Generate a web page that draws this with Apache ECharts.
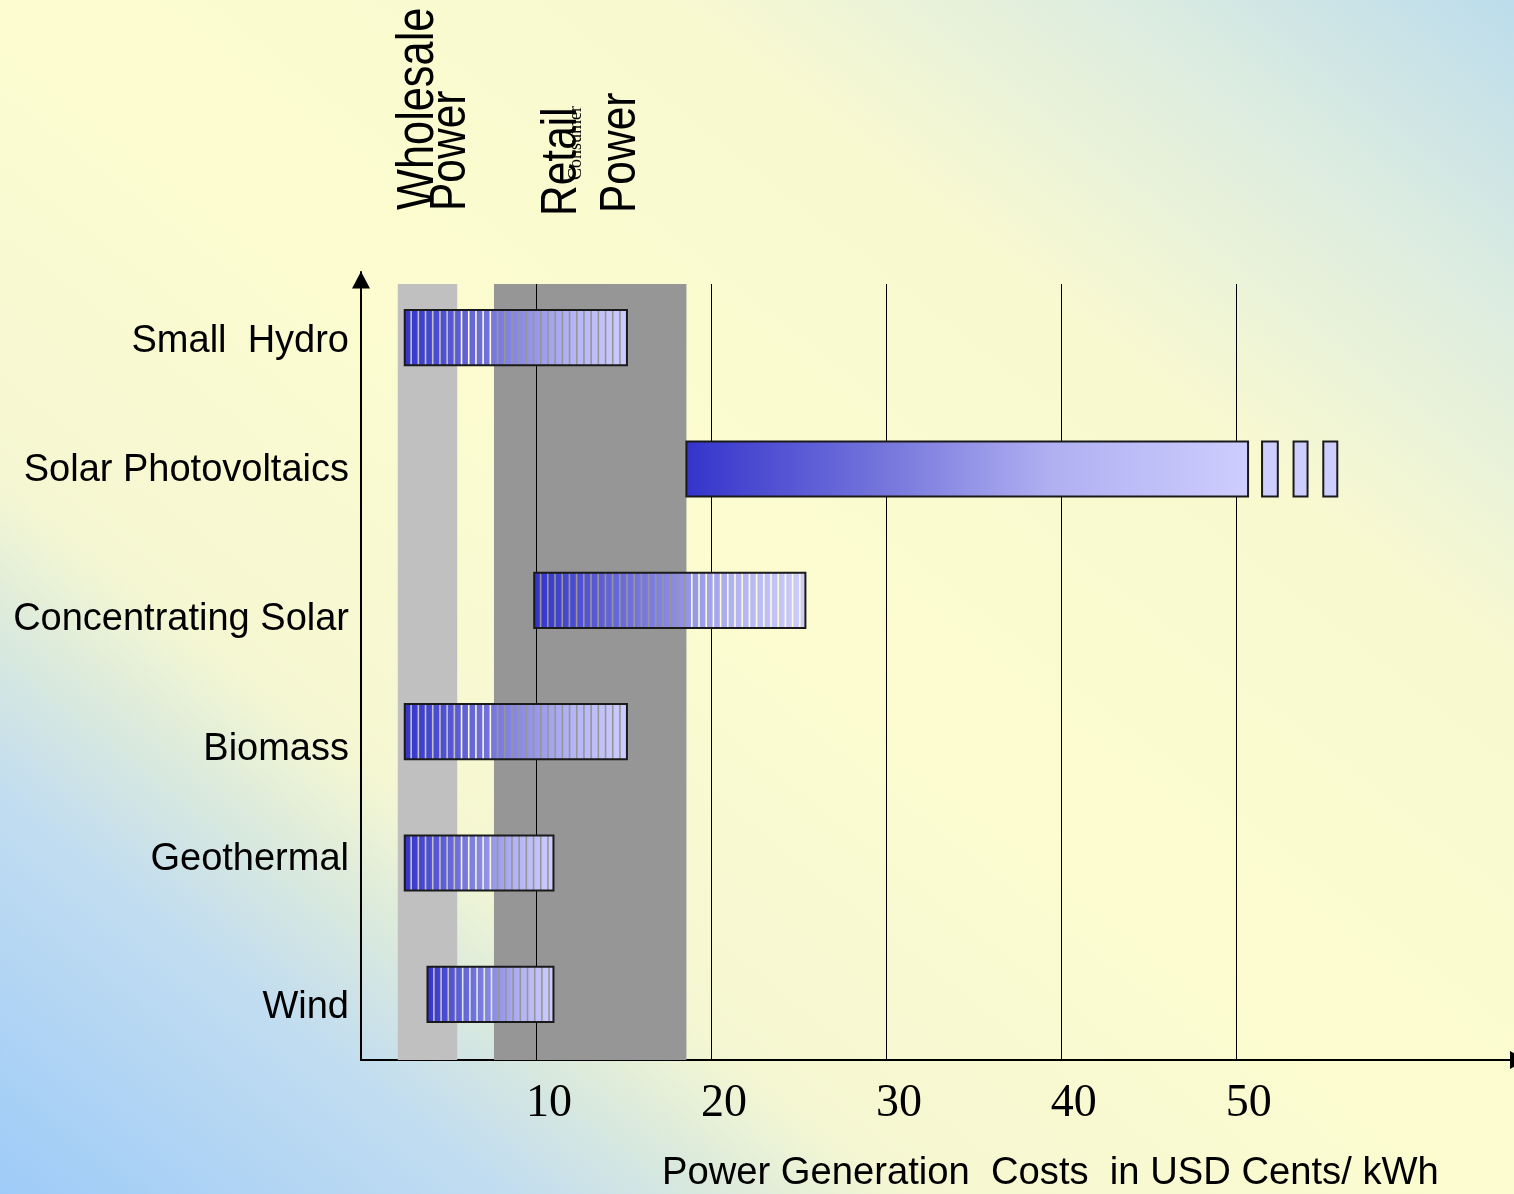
<!DOCTYPE html>
<html><head><meta charset="utf-8">
<script src="https://cdn.jsdelivr.net/npm/echarts@6/dist/echarts.min.js"></script>
<style>
html,body{margin:0;padding:0;width:1514px;height:1194px;overflow:hidden;
background:linear-gradient(to top right,#9ecbf8 0%,#c2ddf0 17%,#dbeadc 24%,#f5f7d2 30%,#fcfcd0 50%,#f9f9d0 72%,#dcece0 87%,#bcdcec 100%);}
#c{width:1514px;height:1194px;}
</style></head><body><div id="c"></div>
<script>
// ---- data ----
const categories = ['Small  Hydro', 'Solar Photovoltaics', 'Concentrating Solar', 'Biomass', 'Geothermal', 'Wind'];
const costLow  = [2.5, 18.6, 9.9, 2.5, 2.5, 3.8];
const costHigh = [15.2, 50.7, 25.4, 15.2, 11.0, 11.0];
const stripedBar = [1, 0, 1, 1, 1, 1];
const pvTailLow  = [51.5, 53.3, 55.0];
const pvTailHigh = [52.4, 54.1, 55.8];
const xTickLabels = [10, 20, 30, 40, 50];
const gridLineValues = [10, 20, 30, 40, 50];
const wholesaleBand = [2.1, 5.5];
const retailBand = [7.6, 18.6];
const xMin = 0, xMax = 65.9;

// ---- styles ----
const labelShift = [4, 2, 19, 18, -3, 13];   // vertical nudge of category labels (px)
const FONT = '"Liberation Sans", Arial, sans-serif';
const SERIF = '"Liberation Serif", "Times New Roman", serif';

const chart = echarts.init(document.getElementById('c'), null, {renderer: 'canvas'});

const barStops = [
  {offset: 0, color: '#3333cc'},
  {offset: 0.45, color: '#7f7fe0'},
  {offset: 0.75, color: '#b4b4f6'},
  {offset: 1, color: '#cdcdfe'}
];
const pvStops = [
  {offset: 0, color: '#3434cc'},
  {offset: 0.35, color: '#7575dc'},
  {offset: 0.65, color: '#b0b0f2'},
  {offset: 1, color: '#cdcdfe'}
];

function renderBands(params, api) {
  const a = api.coord([api.value(0), 0]);
  const b = api.coord([api.value(1), 1]);
  return {type: 'rect', shape: {x: a[0], y: b[1], width: b[0] - a[0], height: a[1] - b[1]},
    style: {fill: api.value(2) === 0 ? '#c0c0c0' : '#969696'}};
}
function renderGridLine(params, api) {
  const a = api.coord([api.value(0), 0]);
  const b = api.coord([api.value(0), 1]);
  return {type: 'line', shape: {x1: Math.round(a[0]) + 0.5, y1: a[1], x2: Math.round(a[0]) + 0.5, y2: b[1]},
    style: {stroke: '#000', lineWidth: 1}};
}
function renderBar(params, api) {
  const p0 = api.coord([api.value(0), api.value(2)]);
  const p1 = api.coord([api.value(1), api.value(2)]);
  const h = api.size([0, 1])[1] * 0.42;
  const x0 = p0[0], x1 = p1[0], y0 = p0[1] - h / 2;
  const striped = api.value(3) === 1;
  const grad = new echarts.graphic.LinearGradient(x0, 0, x1, 0, striped ? barStops : pvStops, true);
  const children = [];
  if (striped) {
    const step = 7.2;
    for (let x = x0; x < x1; x += step) {
      const w = Math.min(step - 1.6, x1 - x);
      children.push({type: 'rect', shape: {x: x, y: y0, width: w, height: h}, style: {fill: grad}});
    }
  } else {
    children.push({type: 'rect', shape: {x: x0, y: y0, width: x1 - x0, height: h}, style: {fill: grad}});
  }
  children.push({type: 'rect', shape: {x: x0, y: y0, width: x1 - x0, height: h},
    style: {fill: 'none', stroke: '#1a1a1a', lineWidth: 2}});
  return {type: 'group', children: children};
}
function renderTail(params, api) {
  const p0 = api.coord([api.value(0), api.value(2)]);
  const p1 = api.coord([api.value(1), api.value(2)]);
  const h = api.size([0, 1])[1] * 0.42;
  return {type: 'rect', shape: {x: p0[0], y: p0[1] - h / 2, width: p1[0] - p0[0], height: h},
    style: {fill: '#cdcdfe', stroke: '#1a1a1a', lineWidth: 2}};
}

const barData = categories.map((c, i) => [costLow[i], costHigh[i], i, stripedBar[i]]);
const tailData = pvTailLow.map((v, i) => [v, pvTailHigh[i], 1]);
const bandData = [[wholesaleBand[0], wholesaleBand[1], 0], [retailBand[0], retailBand[1], 1]];
const lineData = gridLineValues.map(v => [v]);

const rich = {};
labelShift.forEach((s, i) => {
  rich['s' + i] = {fontFamily: FONT, fontSize: 38, color: '#000',
    padding: s >= 0 ? [2 * s, 0, 0, 0] : [0, 0, -2 * s, 0]};
});

function vText(text, x, y, size, family, sx) {
  return {type: 'text', x: x, y: y, rotation: Math.PI / 2, scaleX: sx, z: 10,
    style: {text: text, fill: '#000', font: size + 'px ' + family, align: 'left', verticalAlign: 'bottom'}};
}

chart.setOption({
  backgroundColor: 'transparent',
  animation: false,
  title: {
    text: 'Power Generation  Costs  in USD Cents/ kWh',
    left: 662, top: 1154, padding: 0,
    textStyle: {fontFamily: FONT, fontSize: 38.2, fontWeight: 'normal', color: '#000'}
  },
  grid: [
    {left: 361, top: 284, width: 1153, height: 776, containLabel: false, outerBoundsMode: 'none'},
    {left: 361, top: 272, width: 1153, height: 788, containLabel: false, outerBoundsMode: 'none'}
  ],
  xAxis: [
    {gridIndex: 0, type: 'value', min: xMin, max: xMax, interval: 10,
      axisLine: {show: true, lineStyle: {color: '#000', width: 2}, symbol: ['none', 'triangle'], symbolSize: [18, 16], symbolOffset: [0, 4]},
      axisTick: {show: false}, splitLine: {show: false},
      axisLabel: {show: true, margin: 21, padding: [0, 0, 0, 26], fontFamily: SERIF, fontSize: 46, color: '#000',
        formatter: v => xTickLabels.indexOf(v) >= 0 ? String(v) : ''}},
    {gridIndex: 1, type: 'value', min: xMin, max: xMax, show: false}
  ],
  yAxis: [
    {gridIndex: 0, type: 'value', min: 0, max: 1, show: false},
    {gridIndex: 1, type: 'category', data: categories, inverse: true,
      axisLine: {show: true, lineStyle: {color: '#000', width: 2}, symbol: ['none', 'triangle'], symbolSize: [18, 17], symbolOffset: [0, -8]},
      axisTick: {show: false},
      axisLabel: {margin: 12, color: '#000', rich: rich,
        formatter: (v, i) => '{s' + i + '|' + v + '}'}}
  ],
  graphic: [
    vText('Wholesale', 444, 210, 51, FONT, 0.85),
    vText('Power', 476, 211, 50, FONT, 0.85),
    vText('Retail', 587, 216, 50, FONT, 0.85),
    vText('Consumer', 585, 180, 18, SERIF, 1),
    vText('Power', 646, 213, 50, FONT, 0.85)
  ],
  series: [
    {type: 'custom', xAxisIndex: 0, yAxisIndex: 0, renderItem: renderBands, data: bandData, z: 1, silent: true},
    {type: 'custom', xAxisIndex: 0, yAxisIndex: 0, renderItem: renderGridLine, data: lineData, z: 2, silent: true},
    {type: 'custom', xAxisIndex: 1, yAxisIndex: 1, renderItem: renderBar, data: barData, z: 3},
    {type: 'custom', xAxisIndex: 1, yAxisIndex: 1, renderItem: renderTail, data: tailData, z: 3}
  ]
});
</script></body></html>
